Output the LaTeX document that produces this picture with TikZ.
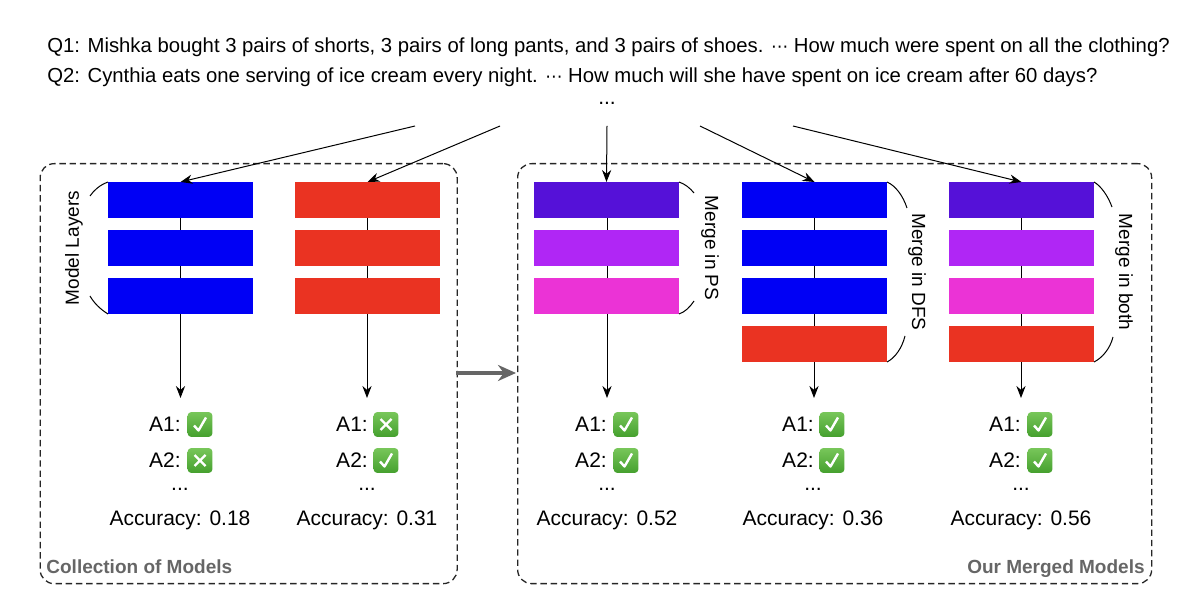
\documentclass[tikz,border=0pt]{standalone}
\usepackage{fontspec}
\setmainfont{Liberation Sans}
\newfontfamily\dejafont{DejaVu Sans}
\usetikzlibrary{arrows.meta}
\definecolor{cblue}{HTML}{0000F5}
\definecolor{cred}{HTML}{EA3322}
\definecolor{cviolet}{HTML}{5511D8}
\definecolor{cpurple}{HTML}{B026F5}
\definecolor{cmagenta}{HTML}{EB33D6}
\definecolor{cgreenl}{HTML}{78C65A}
\definecolor{cgreend}{HTML}{45A02E}
\definecolor{cgray}{HTML}{666666}
\newcommand{\cdotsx}{{\dejafont\fontsize{8.6}{8.6}\selectfont ⋯}}
\tikzset{
 x=0.5pt,y=-0.5pt,
 layer/.style={rectangle,minimum width=72.5pt,minimum height=18pt,inner sep=0pt,outer sep=0pt,draw=none},
 txt/.style={inner sep=0pt,font=\fontsize{10.5}{12}\selectfont,text=black},
 qtxt/.style={inner sep=0pt,font=\fontsize{10.15}{12}\selectfont,text=black},
 group/.style={draw=black!85,dashed,dash pattern=on 3.2pt off 1.9pt,line width=0.65pt,rounded corners=7pt},
 glabel/.style={inner sep=0pt,font=\fontsize{9.5}{11}\selectfont\bfseries,text=cgray},
 link/.style={draw=black,line width=0.5pt},
 arrow/.style={link,-{Stealth[length=6pt,width=4.6pt]}},
 brace/.style={draw=black,line width=0.5pt},
 side/.style={inner sep=0pt,rotate=-90,font=\fontsize{9.5}{11}\selectfont},
 icon/.style={rectangle,rounded corners=1.8pt,minimum width=12.4pt,minimum height=12.4pt,inner sep=0pt,top color=cgreenl,bottom color=cgreend},
 ok/.pic={\draw[white,line width=1.2pt,line join=round] (-6,1) -- (-1.5,6) -- (6,-7);},
 no/.pic={\draw[white,line width=1.2pt] (-5.5,-5.5) -- (5.5,5.5) (-5.5,5.5) -- (5.5,-5.5);}
}
\newcommand{\answer}[6]{% name, text x, icon x, y, label, mark
  \node[txt,anchor=mid] (#1t) at (#2,#4+2) {#5};
  \node[icon] (#1i) at (#3,#4) {};
  \pic at (#1i.center) {#6};
}
\newcommand{\column}[7]{% name, text x, icon x, dots/acc x, A1 mark, A2 mark, acc
  \answer{#1a}{#2}{#3}{424.5}{A1:}{#5}
  \answer{#1b}{#2}{#3}{460.5}{A2:}{#6}
  \node[txt,anchor=base] (#1d) at (#4,491) {...};
  \node[txt,anchor=base] (#1acc) at (#4,526) {Accuracy: #7};
}
\begin{document}
\begin{tikzpicture}
\useasboundingbox (0,0) rectangle (1200,598);
% question text
\node[qtxt,anchor=base west] (q1) at (47,53) {Q1: Mishka bought 3 pairs of shorts, 3 pairs of long pants, and 3 pairs of shoes. \cdotsx{} How much were spent on all the clothing?};
\node[qtxt,anchor=base west] (q2) at (47,83) {Q2: Cynthia eats one serving of ice cream every night. \cdotsx{} How much will she have spent on ice cream after 60 days?};
\node[txt,anchor=base] (qd) at (607,105) {...};
% group frames
\node[group,minimum width=208.5pt,minimum height=210pt,inner sep=0pt,anchor=north west] (g1) at (39.5,163) {};
\node[group,minimum width=317pt,minimum height=210pt,inner sep=0pt,anchor=north west] (g2) at (517,163) {};
\node[glabel,anchor=base west] (g1l) at (46,574) {Collection of Models};
\node[glabel,anchor=base east] (g2l) at (1145,574) {Our Merged Models};
% answer ends
\coordinate (e1) at (180.5,398);
\coordinate (e2) at (367,398);
\coordinate (e3) at (607,398);
\coordinate (e4) at (814,398);
\coordinate (e5) at (1021,398);
% spine lines
\draw[arrow] (180.5,200) -- (e1);
\draw[arrow] (367,200) -- (e2);
\draw[arrow] (607,200) -- (e3);
\draw[arrow] (814,200) -- (e4);
\draw[arrow] (1021,200) -- (e5);
% layers
\foreach \n/\cx/\a/\b/\c in {A/180.5/cblue/cblue/cblue,B/367.5/cred/cred/cred,C/606.5/cviolet/cpurple/cmagenta}{
  \node[layer,fill=\a] (\n1) at (\cx,200) {};
  \node[layer,fill=\b] (\n2) at (\cx,248) {};
  \node[layer,fill=\c] (\n3) at (\cx,296) {};
}
\foreach \n/\cx/\a/\b/\c/\d in {D/814.5/cblue/cblue/cblue/cred,E/1021.5/cviolet/cpurple/cmagenta/cred}{
  \node[layer,fill=\a] (\n1) at (\cx,200) {};
  \node[layer,fill=\b] (\n2) at (\cx,248) {};
  \node[layer,fill=\c] (\n3) at (\cx,296) {};
  \node[layer,fill=\d] (\n4) at (\cx,344) {};
}
% incoming arrows
\coordinate (s1) at (415,126);
\coordinate (s2) at (500,126);
\coordinate (s3) at (607,126);
\coordinate (s4) at (700,126);
\coordinate (s5) at (793,126);
\draw[arrow] (s1) -- (A1.north);
\draw[arrow] (s2) -- (B1.north);
\draw[arrow] (s3) -- (C1.north);
\draw[arrow] (s4) -- (D1.north);
\draw[arrow] (s5) -- (E1.north);
% group arrow
\coordinate (ga) at (456,373);
\coordinate (gb) at (516,373);
\draw[cgray,line width=1.9pt,-{Stealth[length=9pt,width=8pt]}] (ga) -- (gb);
% braces
\draw[brace] (A1.north west) .. controls (100,185) and (94,190) .. (90,196);
\draw[brace] (A3.south west) .. controls (100,309) and (94,303) .. (90,296);
\draw[brace] (C1.north east) .. controls (685,184) and (690,188) .. (694,193);
\draw[brace] (C3.south east) .. controls (685,312) and (690,307) .. (694,301);
\draw[brace] (D1.north east) .. controls (896,186) and (903,196) .. (907,208);
\draw[brace] (D4.south east) .. controls (895,358) and (902,348) .. (905,336);
\draw[brace] (E1.north east) .. controls (1101,186) and (1108,196) .. (1112,207);
\draw[brace] (E4.south east) .. controls (1102,358) and (1110,349) .. (1113,337);
% side labels
\node[side,rotate=180] (sl1) at (74,248) {Model Layers};
\node[side] (sl2) at (710,248) {Merge in PS};
\node[side] (sl3) at (917,272) {Merge in DFS};
\node[side] (sl4) at (1124,272) {Merge in both};
% answers
\column{ca}{165}{200}{180}{ok}{no}{0.18}
\column{cb}{352}{386}{367}{no}{ok}{0.31}
\column{cc}{591}{626}{607}{ok}{ok}{0.52}
\column{cd}{798}{832}{813}{ok}{ok}{0.36}
\column{ce}{1005}{1040}{1021}{ok}{ok}{0.56}
\end{tikzpicture}
\end{document}
